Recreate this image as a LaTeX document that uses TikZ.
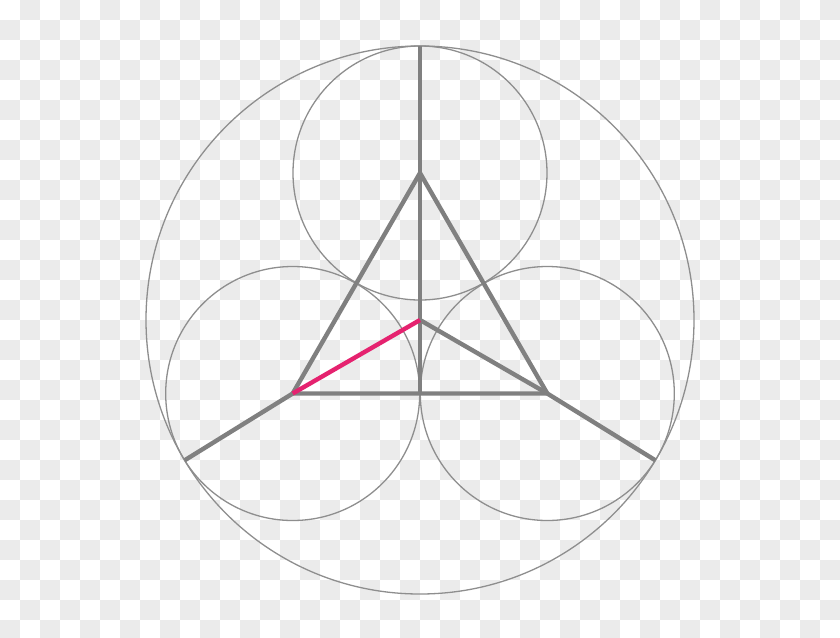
\documentclass[tikz,border=0pt]{standalone}
\usetikzlibrary{calc}
\definecolor{tileg}{HTML}{EBEBEB}
\definecolor{lineg}{HTML}{808080}
\definecolor{circg}{HTML}{8E8E8E}
\definecolor{pinkl}{HTML}{E5226F}
\begin{document}
\begin{tikzpicture}[x=0.02cm,y=-0.02cm,
  thickline/.style={line width=0.088cm, draw=lineg, line join=round},
  thincircle/.style={line width=0.026cm, draw=circg},
  pinkline/.style={line width=0.088cm, draw=pinkl}]
\useasboundingbox (0,0) rectangle (840,637);
\fill[white] (0,0) rectangle (840,637);
\begin{scope}
\clip (0,0) rectangle (840,637);
\foreach \i in {0,...,41}{
  \foreach \j in {0,...,31}{
    \pgfmathtruncatemacro{\tpar}{mod(\i+\j,2)}
    \ifnum\tpar=1 \fill[tileg] (\i*20,\j*20) rectangle ++(20,20);\fi
  }
}
\end{scope}
% geometry
\coordinate (O) at (420,320);
\coordinate (A) at ($(O)+(-90:147)$);
\coordinate (B) at ($(O)+(150:147)$);
\coordinate (C) at ($(O)+(30:147)$);
\coordinate (M) at ($(B)!0.5!(C)$);
\coordinate (T) at ($(O)+(-90:274)$);
\coordinate (L) at ($(O)+(149.2:274)$);
\coordinate (R) at ($(O)+(30.8:274)$);
% circles
\draw[thincircle] (O) circle[radius=274];
\draw[thincircle] (A) circle[radius=127];
\draw[thincircle] (B) circle[radius=127];
\draw[thincircle] (C) circle[radius=127];
% thick lines
\draw[thickline] (A) -- (B) -- (C) -- cycle;
\draw[thickline] (T) -- (M);
\draw[thickline] (O) -- (C) -- (R);
\draw[thickline] (B) -- (L);
\draw[pinkline] (O) -- (B);
\end{tikzpicture}
\end{document}
